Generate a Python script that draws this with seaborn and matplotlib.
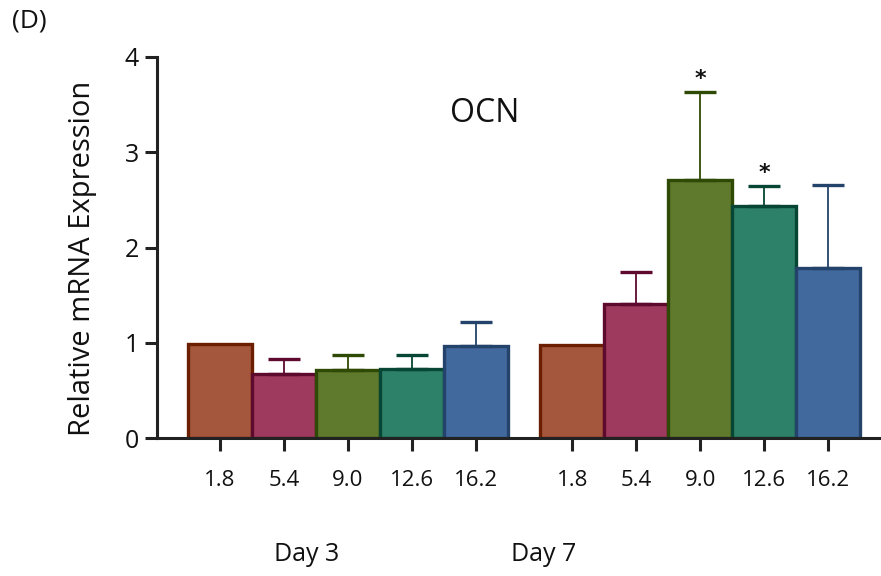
import numpy as np
import pandas as pd
import matplotlib
matplotlib.use("Agg")
import matplotlib.pyplot as plt
import seaborn as sns

# ---- data ----
concentrations = ["1.8", "5.4", "9.0", "12.6", "16.2"]
days = ["Day 3", "Day 7"]
day3_mean = [0.99, 0.67, 0.71, 0.72, 0.97]
day3_err = [0.0, 0.16, 0.16, 0.15, 0.25]
day7_mean = [0.98, 1.41, 2.71, 2.44, 1.78]
day7_err = [0.0, 0.33, 0.92, 0.21, 0.88]
day7_sig = [False, False, True, True, False]
day3_sig = [False, False, False, False, False]

fills = ["#A5573D", "#9E3A5E", "#5F7A2C", "#2E8169", "#41699E"]
edges = ["#6B1F00", "#5E0A2F", "#2F4A05", "#074634", "#24436A"]

group_gap = 1.5
n = len(concentrations)
pos = [i for i in range(n)] + [n - 1 + group_gap + i for i in range(n)]
means = day3_mean + day7_mean
errs = day3_err + day7_err
sigs = day3_sig + day7_sig
concs = concentrations * 2

df = pd.DataFrame({"pos": pos, "mean": means, "conc": concs})

sns.set_style("ticks")
plt.rcParams["font.family"] = ["Open Sans", "DejaVu Sans"]

W, H = 881, 576
fig = plt.figure(figsize=(W / 100, H / 100), dpi=100)
ax = fig.add_axes([157 / W, 1 - 438 / H, (W - 157) / W, (438 - 57) / H])

sns.barplot(data=df, x="pos", y="mean", hue="conc", hue_order=concentrations,
            palette=fills, native_scale=True, dodge=False, width=1.0,
            legend=False, errorbar=None, ax=ax, saturation=1)

patches = sorted(ax.patches, key=lambda p: p.get_x())
for p, c in zip(patches, concs):
    i = concentrations.index(c)
    p.set_facecolor(fills[i])
    p.set_edgecolor(edges[i])
    p.set_linewidth(2.4)

for x, m, e, c, s in zip(pos, means, errs, concs, sigs):
    i = concentrations.index(c)
    if e > 0:
        ax.errorbar(x, m, yerr=[[0], [e]], fmt="none", ecolor=edges[i],
                    elinewidth=1.3, capsize=11.5, capthick=2.4, zorder=1)
    if s:
        ax.text(x, m + e + 0.03, "*", ha="center", va="bottom",
                fontsize=16, fontweight="bold", color="#111111",
                family="DejaVu Sans")

ax.set_xlim(-0.98, 10.32)
ax.set_ylim(0, 4)
ax.set_yticks([0, 1, 2, 3, 4])
ax.set_xticks(pos)
ax.set_xticklabels(concs)
ax.set_xlabel("")
ax.set_ylabel("")

for sp in ["top", "right"]:
    ax.spines[sp].set_visible(False)
for sp in ["left", "bottom"]:
    ax.spines[sp].set_linewidth(2.2)
    ax.spines[sp].set_color("#222222")
ax.tick_params(axis="both", length=9, width=2.2, color="#222222",
               labelsize=16, labelcolor="#111111")
ax.tick_params(axis="x", pad=14)
ax.tick_params(axis="y", labelsize=18, pad=4)

fig.text(83 / W, 1 - 258 / H, "Relative mRNA Expression", rotation=90,
         ha="center", va="center", fontsize=21, color="#111111")
ax.text(1.36, -1.22, days[0], ha="center", va="center", fontsize=18,
        color="#111111")
ax.text(5.05, -1.22, days[1], ha="center", va="center", fontsize=18,
        color="#111111")
fig.text(485 / W, 1 - 114 / H, "OCN", ha="center", va="center", fontsize=23,
         color="#111111")
fig.text(12 / W, 1 - 21 / H, "(D)", ha="left", va="center", fontsize=19,
         color="#111111")

fig.savefig("out.png", dpi=100)
